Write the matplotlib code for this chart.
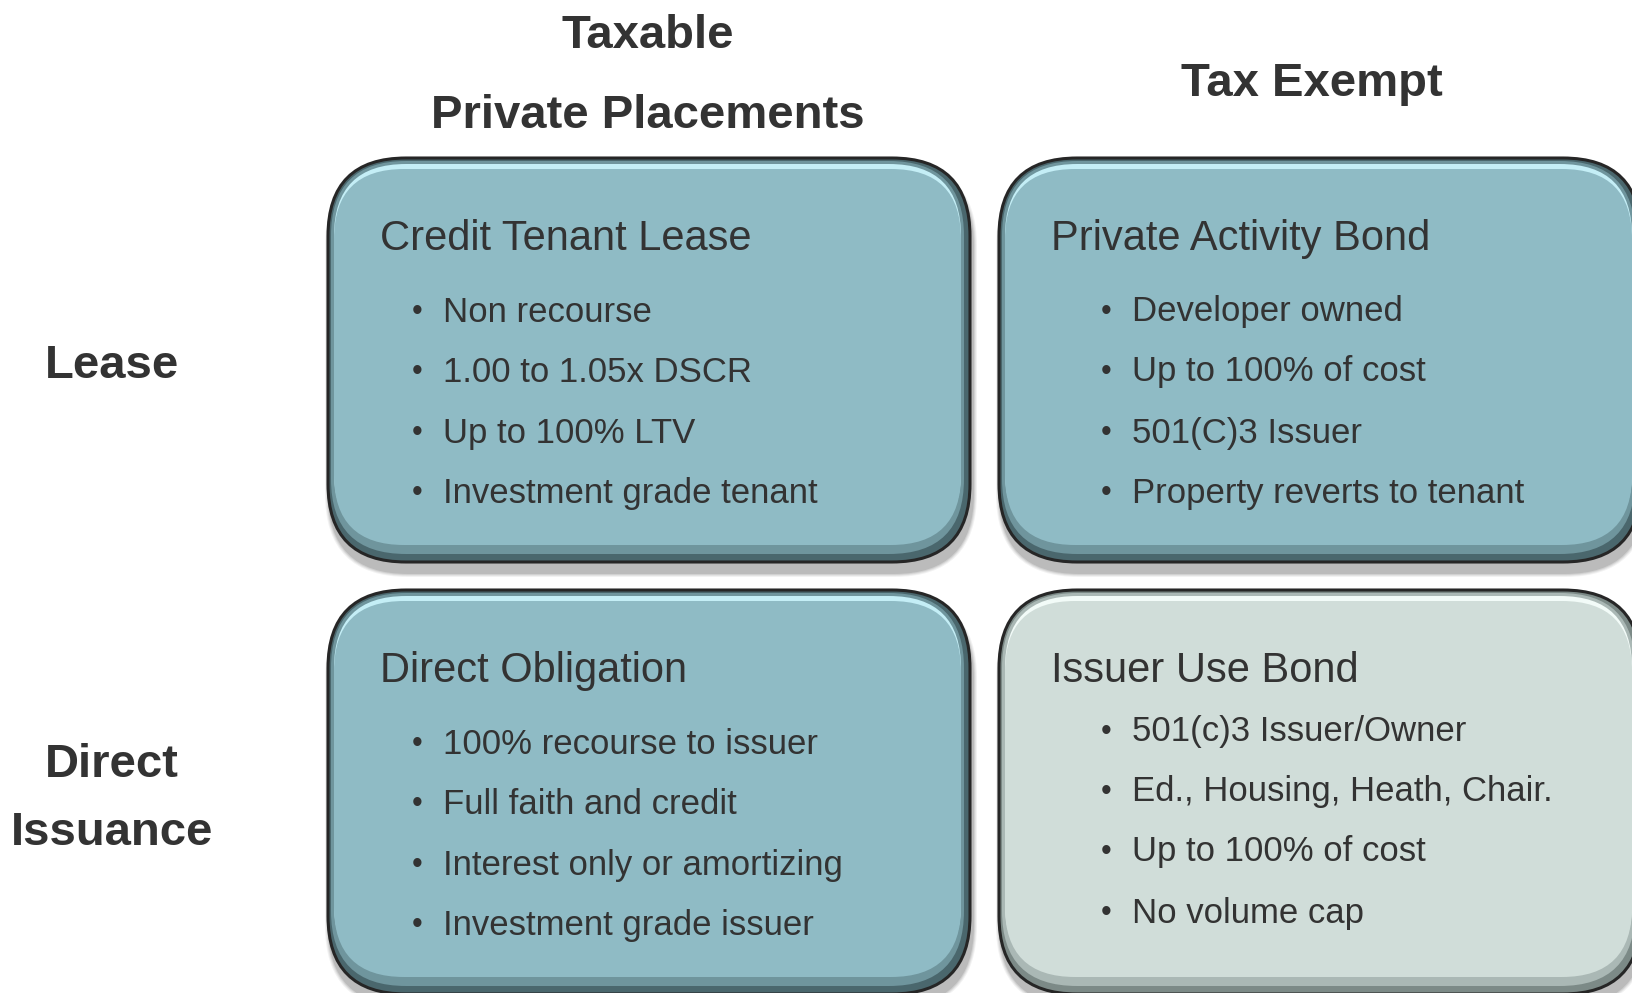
import matplotlib
matplotlib.use("Agg")
import matplotlib.pyplot as plt
from matplotlib.patches import FancyBboxPatch

plt.rcParams["font.family"] = ["Liberation Sans", "DejaVu Sans"]

# ── Content ──
col_headers = ["Taxable\nPrivate Placements", "Tax Exempt"]
row_headers = ["Lease", "Direct\nIssuance"]
box_titles = ["Credit Tenant Lease", "Private Activity Bond",
              "Direct Obligation", "Issuer Use Bond"]
box_bullets = [
    ["Non recourse", "1.00 to 1.05x DSCR", "Up to 100% LTV",
     "Investment grade tenant"],
    ["Developer owned", "Up to 100% of cost", "501(C)3 Issuer",
     "Property reverts to tenant"],
    ["100% recourse to issuer", "Full faith and credit",
     "Interest only or amortizing", "Investment grade issuer"],
    ["501(c)3 Issuer/Owner", "Ed., Housing, Heath, Chair.",
     "Up to 100% of cost", "No volume cap"],
]
box_style = ["teal", "teal", "teal", "gray"]

PALETTE = {
    "teal": dict(face="#8fbbc5", mid="#6f959d", dark="#4a676d", light="#c4eef6"),
    "gray": dict(face="#d0ddd9", mid="#aab8b5", dark="#7c8a87", light="#f2fbf8"),
}
TXT = "#333333"

W, H = 1632, 993
fig = plt.figure(figsize=(W / 100, H / 100), dpi=100)
ax = fig.add_axes([0, 0, 1, 1])
ax.set_xlim(0, W)
ax.set_ylim(H, 0)
ax.axis("off")

col_x = [328, 999]
row_y = [158, 590]
bw, bh = 642, 404
rad = 78


def rbox(x, y, w, h, r, **kw):
    p = FancyBboxPatch((x, y), w, h, boxstyle=f"round,pad=0,rounding_size={r}",
                       mutation_aspect=1, **kw)
    ax.add_patch(p)
    return p


def bevel_box(x, y, w, h, pal):
    # drop shadow
    for i, a in enumerate([0.05, 0.06, 0.08, 0.10]):
        s = 10 - 2 * i
        rbox(x - s / 2 + 2, y + 8 - s / 2 + 2, w + s, h + s, rad + s / 2,
             facecolor="black", edgecolor="none", alpha=a, zorder=1)
    # outline + dark lower bevel
    rbox(x, y, w, h, rad, facecolor=pal["dark"], edgecolor="#262626",
         linewidth=2.2, zorder=2)
    # softer inner band of the bevel
    rbox(x + 3, y + 3, w - 9, h - 11, rad - 3, facecolor=pal["mid"],
         edgecolor="none", zorder=2.5)
    # light upper highlight
    rbox(x + 6, y + 6, w - 15, h - 24, rad - 6, facecolor=pal["light"],
         edgecolor="none", zorder=3)
    # main face
    rbox(x + 6, y + 11, w - 15, h - 28, rad - 8, facecolor=pal["face"],
         edgecolor="none", zorder=4)


title_dy = 81
bullet_dy = [154, 214, 275, 335]
bullet_dy_alt = [142, 202, 262, 323]

for k in range(4):
    r, c = divmod(k, 2)
    x, y = col_x[c], row_y[r]
    bevel_box(x, y, bw, bh, PALETTE[box_style[k]])
    ax.text(x + 52, y + title_dy, box_titles[k], fontsize=30, color=TXT,
            ha="left", va="center", zorder=5)
    dys = bullet_dy_alt if k == 3 else bullet_dy
    bx = x + 89 if c == 0 else x + 107
    for dy, line in zip(dys, box_bullets[k]):
        ax.text(bx, y + dy, "\u2022", fontsize=22, color=TXT,
                ha="center", va="center", zorder=5)
        ax.text(bx + 26, y + dy, line, fontsize=25, color=TXT,
                ha="left", va="center", zorder=5)

# column headers
ax.text(648, 76, col_headers[0], fontsize=34, fontweight="bold", color=TXT,
        ha="center", va="center", linespacing=2.05)
ax.text(1312, 84, col_headers[1], fontsize=34, fontweight="bold", color=TXT,
        ha="center", va="center")

# row headers
ax.text(112, 366, row_headers[0], fontsize=34, fontweight="bold", color=TXT,
        ha="center", va="center")
ax.text(112, 799, row_headers[1], fontsize=34, fontweight="bold", color=TXT,
        ha="center", va="center", linespacing=1.7)

fig.savefig("out.png", dpi=100, facecolor="white")
